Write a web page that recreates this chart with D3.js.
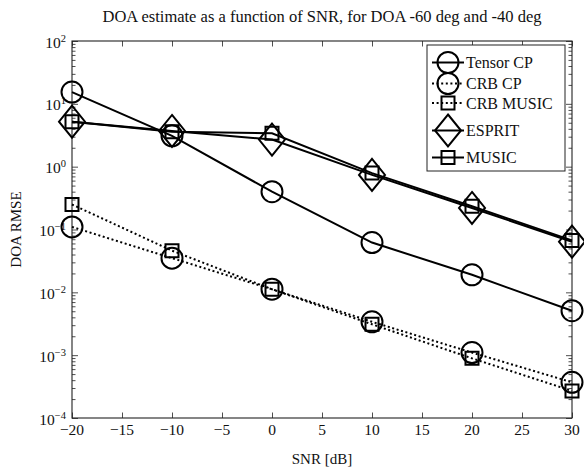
<!DOCTYPE html>
<html>
<head>
<meta charset="utf-8">
<script src="https://cdn.jsdelivr.net/npm/d3@7"></script>
<style>
  body { margin: 0; background: #fff; }
  svg text { font-family: "Liberation Serif", "DejaVu Serif", serif; fill: #111; }
</style>
</head>
<body>
<div id="chart"></div>
<script>
// values
var snr = [-20, -10, 0, 10, 20, 30];
var tensorCP = [15.4, 3.1, 0.40, 0.062, 0.019, 0.0051];
var crbCP = [0.11, 0.035, 0.0112, 0.0034, 0.0011, 0.00037];
var crbMUSIC = [0.25, 0.046, 0.0112, 0.0031, 0.00089, 0.00027];
var esprit = [5.2, 3.7, 2.7, 0.74, 0.22, 0.064];
var music = [5.2, 3.6, 3.4, 0.79, 0.235, 0.067];

var seriesNames = ['Tensor CP', 'CRB CP', 'CRB MUSIC', 'ESPRIT', 'MUSIC'];
var seriesValues = [tensorCP, crbCP, crbMUSIC, esprit, music];
var seriesMarks = ['circle', 'circle', 'square', 'diamond', 'square'];
var seriesDotted = [false, true, true, false, false];

var xTicks = [-20, -15, -10, -5, 0, 5, 10, 15, 20, 25, 30];
var yExps = [-4, -3, -2, -1, 0, 1, 2];

var W = 584, H = 469;
var pLeft = 72, pRight = 572, pTop = 41, pBottom = 418;

var svg = d3.select('#chart').append('svg').attr('width', W).attr('height', H);

var x = d3.scaleLinear().domain([-20, 30]).range([pLeft, pRight]);
var y = d3.scaleLog().domain([1e-4, 1e2]).range([pBottom, pTop]);

// minor ticks for log axis
var minor = [];
yExps.slice(0, -1).forEach(function(e) {
  for (var k = 2; k <= 9; k++) minor.push(k * Math.pow(10, e));
});
var major = yExps.map(function(e) { return Math.pow(10, e); });

var axisColor = '#222';

function styleAxis(g) {
  g.select('.domain').remove();
  g.selectAll('line').attr('stroke', axisColor).attr('stroke-width', 0.8);
  g.selectAll('text').remove();
}

// x ticks bottom & top (inward)
svg.append('g').attr('transform', 'translate(0,' + pBottom + ')')
  .call(d3.axisBottom(x).tickValues(xTicks).tickSize(-5.5)).call(styleAxis);
svg.append('g').attr('transform', 'translate(0,' + pTop + ')')
  .call(d3.axisTop(x).tickValues(xTicks).tickSize(-5.5)).call(styleAxis);

// y ticks left & right, major and minor
svg.append('g').attr('transform', 'translate(' + pLeft + ',0)')
  .call(d3.axisLeft(y).tickValues(major).tickSize(-6)).call(styleAxis);
svg.append('g').attr('transform', 'translate(' + pLeft + ',0)')
  .call(d3.axisLeft(y).tickValues(minor).tickSize(-3.5)).call(styleAxis);
svg.append('g').attr('transform', 'translate(' + pRight + ',0)')
  .call(d3.axisRight(y).tickValues(major).tickSize(-6)).call(styleAxis);
svg.append('g').attr('transform', 'translate(' + pRight + ',0)')
  .call(d3.axisRight(y).tickValues(minor).tickSize(-3.5)).call(styleAxis);

// frame
svg.append('rect').attr('x', pLeft).attr('y', pTop)
  .attr('width', pRight - pLeft).attr('height', pBottom - pTop)
  .attr('fill', 'none').attr('stroke', axisColor).attr('stroke-width', 1.1);

// tick labels
svg.selectAll('.xlab').data(xTicks).enter().append('text')
  .attr('x', function(d) { return x(d); })
  .attr('y', pBottom + 17)
  .attr('text-anchor', 'middle')
  .style('font-size', '15.5px')
  .text(function(d) { return d < 0 ? '\u2212' + Math.abs(d) : d; });

var ylab = svg.selectAll('.ylab').data(yExps).enter().append('text')
  .attr('x', pLeft - 6)
  .attr('y', function(d) { return y(Math.pow(10, d)) + 6.5; })
  .attr('text-anchor', 'end')
  .style('font-size', '15.5px');
ylab.append('tspan').text('10');
ylab.append('tspan').attr('dy', -6).style('font-size', '10.5px')
  .text(function(d) { return d < 0 ? '\u2212' + Math.abs(d) : d; });

// axis titles
svg.append('text').attr('x', (pLeft + pRight) / 2).attr('y', 464)
  .attr('text-anchor', 'middle').style('font-size', '15px').text('SNR [dB]');
svg.append('text').attr('transform', 'translate(21,' + ((pTop + pBottom) / 2) + ') rotate(-90)')
  .attr('text-anchor', 'middle').style('font-size', '15px').text('DOA RMSE');
svg.append('text').attr('x', (pLeft + pRight) / 2).attr('y', 22)
  .attr('text-anchor', 'middle').style('font-size', '16.5px')
  .text('DOA estimate as a function of SNR, for DOA -60 deg and -40 deg');

// marker path generators
function markPath(type) {
  if (type == 'circle') return 'M-10.5,0A10.5,10.5 0 1,0 10.5,0A10.5,10.5 0 1,0 -10.5,0Z';
  if (type == 'square') return 'M-6.5,-6.5H6.5V6.5H-6.5Z';
  return 'M0,-16L13,0L0,16L-13,0Z';
}

var line = d3.line()
  .x(function(d, i) { return x(snr[i]); })
  .y(function(d) { return y(d); });

for (var s = 0; s < seriesValues.length; s++) {
  var g = svg.append('g');
  g.append('path').datum(seriesValues[s])
    .attr('d', line)
    .attr('fill', 'none')
    .attr('stroke', '#000')
    .attr('stroke-width', 2)
    .attr('stroke-dasharray', seriesDotted[s] ? '2,2.6' : null);
  g.selectAll('.mk').data(seriesValues[s]).enter().append('path')
    .attr('d', markPath(seriesMarks[s]))
    .attr('transform', function(d, i) { return 'translate(' + x(snr[i]) + ',' + y(d) + ')'; })
    .attr('fill', 'none')
    .attr('stroke', '#000')
    .attr('stroke-width', 2);
}

// legend
var legRows = [62.5, 83.5, 103, 130.5, 157.5];
var leg = svg.append('g');
leg.append('rect').attr('x', 427).attr('y', 45).attr('width', 138).attr('height', 126)
  .attr('fill', '#fff').attr('stroke', axisColor).attr('stroke-width', 1);
for (var j = 0; j < seriesNames.length; j++) {
  var ly = legRows[j];
  leg.append('line').attr('x1', 432).attr('x2', 464).attr('y1', ly).attr('y2', ly)
    .attr('stroke', '#000').attr('stroke-width', 2)
    .attr('stroke-dasharray', seriesDotted[j] ? '2,2.6' : null);
  leg.append('path').attr('d', markPath(seriesMarks[j]))
    .attr('transform', 'translate(448,' + ly + ')')
    .attr('fill', 'none').attr('stroke', '#000').attr('stroke-width', 2);
  leg.append('text').attr('x', 466).attr('y', ly + 5.5)
    .style('font-size', '16px').text(seriesNames[j]);
}
</script>
</body>
</html>
